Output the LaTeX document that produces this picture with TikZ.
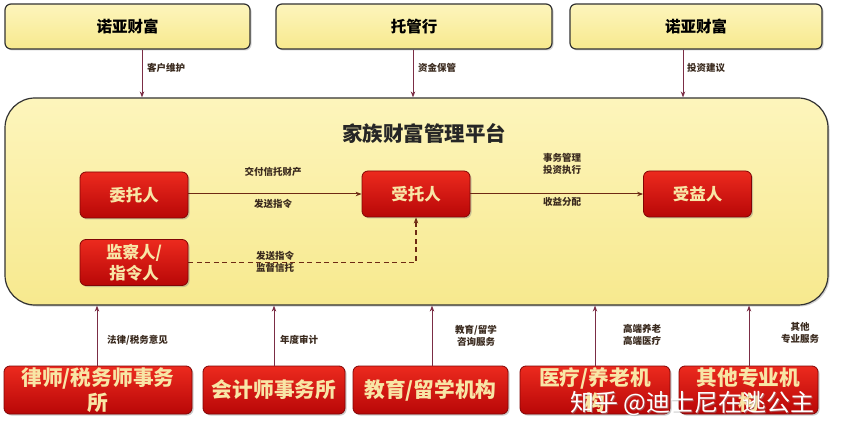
\documentclass[tikz,border=0pt]{standalone}
\usepackage{fontspec}
\setmainfont{Noto Sans CJK SC}
\usetikzlibrary{arrows.meta,shadows}
\definecolor{ybox}{HTML}{F7E98E}
\definecolor{ytop}{HTML}{FDF5BC}
\definecolor{rtop}{HTML}{EC2A1E}
\definecolor{rbot}{HTML}{B80707}
\definecolor{rtext}{HTML}{F8E6A6}
\definecolor{marr}{HTML}{7B2D45}
\definecolor{barr}{HTML}{6E2A14}
\definecolor{ltxt}{HTML}{3A2A1E}
\tikzset{
  ybx/.style={draw=black!80, line width=1.2pt, top color=ytop, bottom color=ybox, rounded corners=6pt,
    drop shadow={opacity=0.35, shadow xshift=1.5pt, shadow yshift=-1.5pt}},
  rbx/.style={draw=rbot!70!black, line width=0.8pt, top color=rtop, bottom color=rbot, rounded corners=6pt,
    text=rtext, font=\bfseries\fontsize{16.5}{20}\selectfont, align=center,
    drop shadow={opacity=0.4, shadow xshift=1.5pt, shadow yshift=-1.5pt}},
  bbx/.style={draw=rbot!70!black, line width=0.8pt, top color=rtop, bottom color=rbot, rounded corners=6pt,
    text=rtext, font=\bfseries\fontsize{20.7}{25}\selectfont, align=center, inner sep=1pt,
    drop shadow={opacity=0.4, shadow xshift=1.5pt, shadow yshift=-1.5pt}},
  varr/.style={draw=marr, line width=0.9pt, -{Stealth[length=6pt,width=4.5pt]}},
  harr/.style={draw=barr, line width=1pt, -{Stealth[length=6pt,width=4.5pt]}},
  lbl/.style={text=ltxt, font=\bfseries\fontsize{9.5}{11}\selectfont, align=center, inner sep=0pt},
}
\begin{document}
\begin{tikzpicture}[x=1pt,y=-1pt]
\useasboundingbox[fill=white] (0,0) rectangle (842,438);
% top boxes
\node[ybx, minimum width=245pt, minimum height=45pt, font=\bfseries\fontsize{15.5}{18}\selectfont] (t1) at (127.5,26.5) {诺亚财富};
\node[ybx, minimum width=276pt, minimum height=45pt, font=\bfseries\fontsize{15.5}{18}\selectfont] (t2) at (414,26.5) {托管行};
\node[ybx, minimum width=252pt, minimum height=45pt, font=\bfseries\fontsize{15.5}{18}\selectfont] (t3) at (696,26.5) {诺亚财富};
% platform
\node[ybx, rounded corners=30pt, minimum width=823pt, minimum height=207pt] (plat) at (416.5,201.5) {};
\node[font=\bfseries\fontsize{20.5}{22}\selectfont, text=black!85] (title) at (424,133) {家族财富管理平台};
% inner red boxes
\node[rbx, minimum width=108pt, minimum height=46pt] (wt) at (134,195) {委托人};
\node[rbx, minimum width=108pt, minimum height=46pt] (st) at (416,194) {受托人};
\node[rbx, minimum width=108pt, minimum height=46pt] (sy) at (697.5,194) {受益人};
\node[rbx, minimum width=108pt, minimum height=46pt, font=\bfseries\fontsize{16.5}{21}\selectfont] (jc) at (134,262.5) {监察人/\\指令人};
% coordinates for vertical arrows
\coordinate (a1) at (142,0);
\coordinate (a2) at (413,0);
\coordinate (a3) at (683,0);
\draw[varr] (t1.south -| a1) -- (plat.north -| a1);
\draw[varr] (t2.south -| a2) -- (plat.north -| a2);
\draw[varr] (t3.south -| a3) -- (plat.north -| a3);
\node[lbl, anchor=west] (l1) at (147,68) {客户维护};
\node[lbl, anchor=west] (l2) at (418,68) {资金保管};
\node[lbl, anchor=west] (l3) at (687,68) {投资建议};
% horizontal arrows
\draw[harr] (wt.east |- st.west) -- (st.west);
\draw[harr] (st.east) -- (sy.west |- st.east);
\node[lbl] (h1) at (273,172) {交付信托财产};
\node[lbl] (h2) at (273,204) {发送指令};
\node[lbl, font=\bfseries\fontsize{9.5}{12.5}\selectfont] (h3) at (562,164) {事务管理\\投资执行};
\node[lbl] (h4) at (562,202) {收益分配};
\coordinate (dc) at (st.south |- jc.east);
\draw[harr, dashed, line width=1.2pt, dash pattern=on 5pt off 3.5pt] (jc.east) -- (dc) -- (st.south);
\node[lbl, font=\bfseries\fontsize{9.5}{11.5}\selectfont] (h5) at (275,262) {发送指令\\监督信托};
% bottom boxes
\node[bbx, minimum width=188pt, minimum height=48pt] (b1) at (98,390) {律师/税务师事务\\所};
\node[bbx, minimum width=142pt, minimum height=48pt] (b2) at (274,390) {会计师事务所};
\node[bbx, minimum width=155pt, minimum height=48pt] (b3) at (430.5,390) {教育/留学机构};
\node[bbx, minimum width=150pt, minimum height=48pt] (b4) at (595,390) {医疗/养老机\\构};
\node[bbx, minimum width=139pt, minimum height=48pt] (b5) at (748.5,390) {其他专业机\\构};
\coordinate (c1) at (97,0);
\coordinate (c2) at (274,0);
\coordinate (c3) at (432,0);
\coordinate (c4) at (595,0);
\coordinate (c5) at (749,0);
\draw[varr] (b1.north -| c1) -- (plat.south -| c1);
\draw[varr] (b2.north -| c2) -- (plat.south -| c2);
\draw[varr] (b3.north -| c3) -- (plat.south -| c3);
\draw[varr] (b4.north -| c4) -- (plat.south -| c4);
\draw[varr] (b5.north -| c5) -- (plat.south -| c5);
\node[lbl, anchor=west] (m1) at (107,340) {法律/税务意见};
\node[lbl, anchor=west] (m2) at (280,340) {年度审计};
\node[lbl, font=\bfseries\fontsize{9.5}{12.5}\selectfont] (m3) at (476,336) {教育/留学\\咨询服务};
\node[lbl, font=\bfseries\fontsize{9.5}{12.5}\selectfont] (m4) at (642,335) {高端养老\\高端医疗};
\node[lbl, font=\bfseries\fontsize{9.5}{12.5}\selectfont] (m5) at (800,333) {其他\\专业服务};
% watermark
\node[text=black!40, opacity=0.5, font=\fontsize{24}{26}\selectfont] (wmS) at (693.5,404.5) {知乎 @迪士尼在逃公主};
\node[text=white, font=\fontsize{24}{26}\selectfont] (wm) at (692.5,403) {知乎 @迪士尼在逃公主};
\end{tikzpicture}
\end{document}
